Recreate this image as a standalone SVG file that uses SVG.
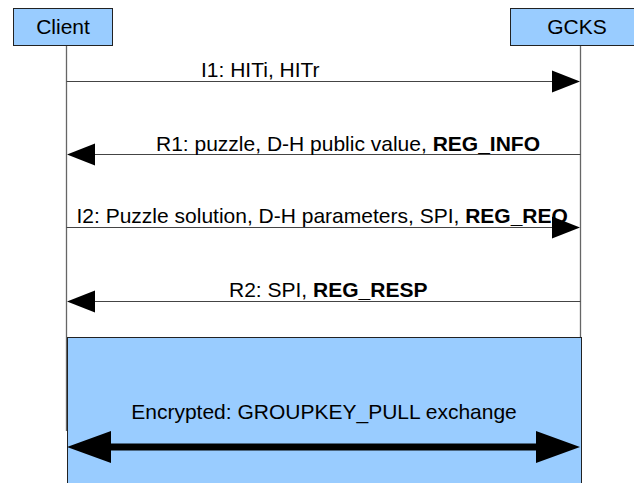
<svg xmlns="http://www.w3.org/2000/svg" width="634" height="483" viewBox="0 0 634 483">
  <style>
    .box { fill: #99ccff; stroke: #222; stroke-width: 1; }
    .life { stroke: #666; stroke-width: 1.3; fill: none; }
    .msg { stroke: #444; stroke-width: 1.1; fill: none; }
    .head { fill: #000; }
    text { font-family: "Liberation Sans", Arial, sans-serif; font-size: 21px; fill: #000; }
    .b { font-weight: bold; }
  </style>
  <rect width="634" height="483" fill="#fff"/>

  <!-- lifelines -->
  <g id="lifelines">
    <line class="life" x1="66.5" y1="45" x2="66.5" y2="431"/>
    <line class="life" x1="580.5" y1="45" x2="580.5" y2="338"/>
  </g>

  <g id="client">
    <rect class="box" x="13.5" y="8.5" width="99" height="37"/>
    <text x="63" y="34" text-anchor="middle">Client</text>
  </g>

  <g id="gcks">
    <rect class="box" x="510.5" y="8.5" width="134" height="37"/>
    <text x="577" y="34" text-anchor="middle">GCKS</text>
  </g>

  <g id="secure-channel">
    <rect class="box" x="67.5" y="337.5" width="514" height="160" stroke="#444"/>
    <text x="324" y="419" text-anchor="middle">Encrypted: GROUPKEY_PULL exchange</text>
  </g>

  <g id="connectors">
    <!-- I1 -->
    <line class="msg" x1="66.5" y1="81.5" x2="555" y2="81.5"/>
    <polygon class="head" points="580,81.5 552,70.5 552,92.5"/>
    <text x="201" y="76.5">I1: HITi, HITr</text>

    <!-- R1 -->
    <line class="msg" x1="90" y1="154.5" x2="580.5" y2="154.5"/>
    <polygon class="head" points="67,154.5 95,143.5 95,165.5"/>
    <text x="156" y="150.5">R1: puzzle, D-H public value, <tspan class="b">REG_INFO</tspan></text>

    <!-- I2 -->
    <line class="msg" x1="66.5" y1="227.5" x2="555" y2="227.5"/>
    <polygon class="head" points="580,227.5 552,216.5 552,238.5"/>
    <text x="76.5" y="223">I2: Puzzle solution, D-H parameters, SPI, <tspan class="b">REG_REQ</tspan></text>

    <!-- R2 -->
    <line class="msg" x1="90" y1="301.5" x2="580.5" y2="301.5"/>
    <polygon class="head" points="67,301.5 95,290.5 95,312.5"/>
    <text x="229" y="297">R2: SPI, <tspan class="b">REG_RESP</tspan></text>

    <!-- encrypted exchange, both directions -->
    <line x1="105" y1="447" x2="542" y2="447" stroke="#000" stroke-width="7"/>
    <polygon class="head" points="67,447 111,431 111,463"/>
    <polygon class="head" points="580,447 536,431 536,463"/>
  </g>
</svg>
